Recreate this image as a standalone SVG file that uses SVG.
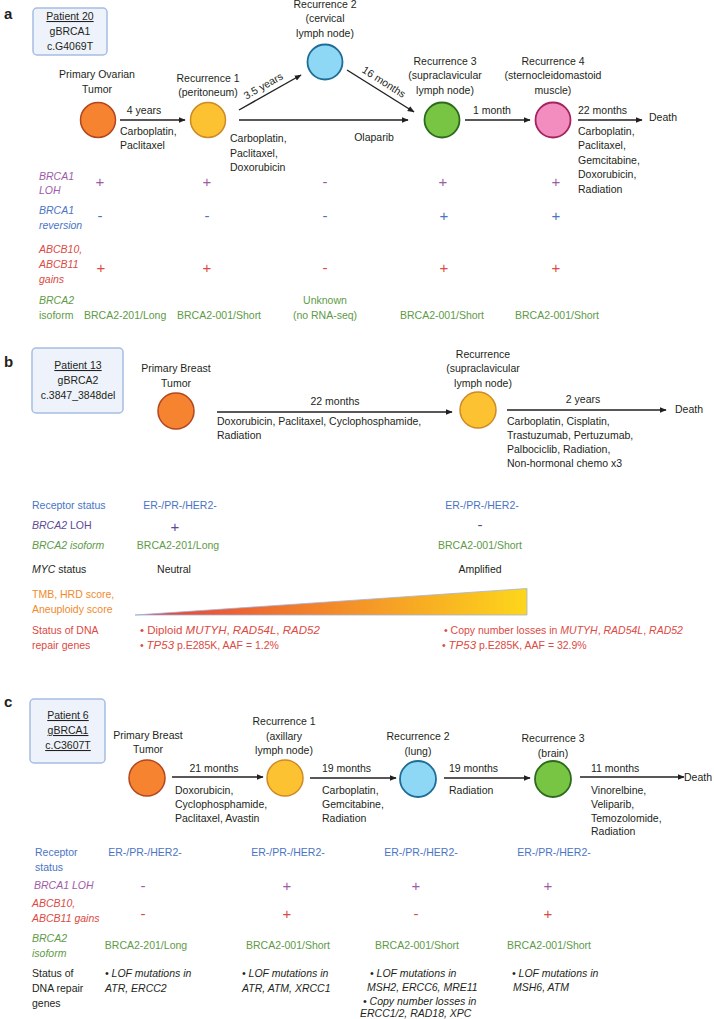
<svg xmlns="http://www.w3.org/2000/svg" width="714" height="1019" viewBox="0 0 714 1019">
<style>
text{font-family:"Liberation Sans",Arial,sans-serif;font-size:10.5px;fill:#231f20}
.m{text-anchor:middle}
.i{font-style:italic}
.lbl{font-weight:bold;font-size:15px}
.u{text-decoration:underline}
.pur{fill:#a05aa8}
.dpur{fill:#5b4a96}
.blu{fill:#4a74c4}
.red{fill:#db4a43}
.grn{fill:#5e9a47}
.org{fill:#f08a2d}
.sym{font-size:15px}
.box{fill:#eef3fb;stroke:#a7bde3;stroke-width:1.5}
.ln{stroke:#231f20;stroke-width:1.4;fill:none}
.o{fill:#f5832f;stroke:#b4461f;stroke-width:1.5}
.y{fill:#fdc232;stroke:#cf8a26;stroke-width:1.5}
.b{fill:#8fd8f5;stroke:#1e6d98;stroke-width:1.8}
.g{fill:#78c443;stroke:#2d6a1e;stroke-width:1.8}
.p{fill:#f48dbf;stroke:#a3245f;stroke-width:1.8}
</style>
<defs>
<marker id="ah" viewBox="0 0 10 10" refX="9" refY="5" markerWidth="7" markerHeight="7" orient="auto" markerUnits="userSpaceOnUse">
<path d="M0,1 L10,5 L0,9 z" fill="#231f20"/>
</marker>
<linearGradient id="wedge" x1="0" y1="0" x2="1" y2="0">
<stop offset="0" stop-color="#e53a3c"/>
<stop offset="0.45" stop-color="#f2822b"/>
<stop offset="1" stop-color="#fdd61b"/>
</linearGradient>
</defs>

<!-- Panel a -->
<text x="4" y="19" class="lbl">a</text>
<g id="a-patient">
<rect x="33" y="8" width="74" height="47" rx="4" class="box"/>
<text x="70" y="20" class="m u">Patient 20 </text>
<text x="70" y="35" class="m">gBRCA1</text>
<text x="70" y="50" class="m">c.G4069T</text>
</g>
<g id="a-primary">
<text x="97" y="78" class="m">Primary Ovarian</text>
<text x="97" y="93" class="m">Tumor</text>
<circle cx="98" cy="120" r="17.5" class="o"/>
</g>
<g id="a-rec1">
<text x="208" y="82" class="m">Recurrence 1</text>
<text x="208" y="96" class="m">(peritoneum)</text>
<circle cx="208" cy="120" r="17.5" class="y"/>
</g>
<g id="a-rec2">
<text x="325" y="8" class="m">Recurrence 2</text>
<text x="325" y="22" class="m">(cervical</text>
<text x="325" y="37" class="m">lymph node)</text>
<circle cx="325" cy="62" r="17.5" class="b"/>
</g>
<g id="a-rec3">
<text x="445" y="65" class="m">Recurrence 3</text>
<text x="445" y="79" class="m">(supraclavicular</text>
<text x="445" y="94" class="m">lymph node)</text>
<circle cx="442" cy="120" r="17.5" class="g"/>
</g>
<g id="a-rec4">
<text x="553" y="65" class="m">Recurrence 4</text>
<text x="553" y="79" class="m">(sternocleidomastoid</text>
<text x="553" y="94" class="m">muscle)</text>
<circle cx="553" cy="120" r="17.5" class="p"/>
</g>
<g id="a-death"><text x="649" y="121">Death</text></g>
<g id="a-connectors">
<line x1="120" y1="120" x2="185" y2="120" class="ln" marker-end="url(#ah)"/>
<line x1="239" y1="110" x2="301" y2="75" class="ln" marker-end="url(#ah)"/>
<line x1="239" y1="120" x2="408" y2="120" class="ln" marker-end="url(#ah)"/>
<line x1="347" y1="70" x2="414" y2="112" class="ln" marker-end="url(#ah)"/>
<line x1="465" y1="120" x2="530" y2="120" class="ln" marker-end="url(#ah)"/>
<line x1="578" y1="120" x2="642" y2="120" class="ln" marker-end="url(#ah)"/>
<text x="144" y="114" class="m">4 years</text>
<text x="120" y="135">Carboplatin,</text>
<text x="120" y="149">Paclitaxel</text>
<text x="265" y="89" class="m" transform="rotate(-29.5 265 89)">3.5 years</text>
<text x="382" y="85" class="m" transform="rotate(32.5 382 85)">16 months</text>
<text x="230" y="142">Carboplatin,</text>
<text x="230" y="157">Paclitaxel,</text>
<text x="230" y="171">Doxorubicin</text>
<text x="374" y="141" class="m">Olaparib</text>
<text x="492" y="114" class="m">1 month</text>
<text x="578" y="114">22 months</text>
<text x="578" y="135">Carboplatin,</text>
<text x="578" y="149">Paclitaxel,</text>
<text x="578" y="164">Gemcitabine,</text>
<text x="578" y="178">Doxorubicin,</text>
<text x="578" y="193">Radiation</text>
</g>
<g id="a-rows">
<text x="39" y="180" class="i pur">BRCA1</text>
<text x="39" y="194" class="i pur">LOH</text>
<text x="100" y="187" class="m sym pur">+</text>
<text x="207" y="187" class="m sym pur">+</text>
<text x="325" y="187" class="m sym pur">-</text>
<text x="443" y="187" class="m sym pur">+</text>
<text x="556" y="187" class="m sym pur">+</text>
<text x="39" y="214" class="i blu">BRCA1</text>
<text x="39" y="229" class="i blu">reversion</text>
<text x="100" y="221" class="m sym blu">-</text>
<text x="207" y="221" class="m sym blu">-</text>
<text x="325" y="221" class="m sym blu">-</text>
<text x="444" y="221" class="m sym blu">+</text>
<text x="556" y="221" class="m sym blu">+</text>
<text x="39" y="253" class="i red">ABCB10,</text>
<text x="39" y="268" class="i red">ABCB11</text>
<text x="39" y="283" class="i red">gains</text>
<text x="101" y="273" class="m sym red">+</text>
<text x="207" y="273" class="m sym red">+</text>
<text x="325" y="273" class="m sym red">-</text>
<text x="444" y="273" class="m sym red">+</text>
<text x="556" y="273" class="m sym red">+</text>
<text x="39" y="304" class="i grn">BRCA2</text>
<text x="39" y="319" class="grn">isoform</text>
<text x="84" y="319" class="grn">BRCA2-201/Long</text>
<text x="177" y="319" class="grn">BRCA2-001/Short</text>
<text x="325" y="304" class="m grn">Unknown</text>
<text x="325" y="319" class="m grn">(no RNA-seq)</text>
<text x="442" y="319" class="m grn">BRCA2-001/Short</text>
<text x="557" y="319" class="m grn">BRCA2-001/Short</text>
</g>

<!-- Panel b -->
<text x="4" y="367" class="lbl">b</text>
<g id="b-patient">
<rect x="32" y="348" width="91" height="65" rx="4" class="box"/>
<text x="78" y="369" class="m u">Patient 13 </text>
<text x="78" y="384" class="m">gBRCA2</text>
<text x="78" y="399" class="m">c.3847_3848del</text>
</g>
<g id="b-primary">
<text x="176" y="372" class="m">Primary Breast</text>
<text x="176" y="387" class="m">Tumor</text>
<circle cx="176" cy="411" r="18" class="o"/>
</g>
<g id="b-rec">
<text x="483" y="358" class="m">Recurrence</text>
<text x="483" y="372" class="m">(supraclavicular</text>
<text x="483" y="387" class="m">lymph node)</text>
<circle cx="478" cy="410" r="18" class="y"/>
</g>
<g id="b-death"><text x="675" y="413">Death</text></g>
<g id="b-connectors">
<line x1="217" y1="412" x2="452" y2="412" class="ln" marker-end="url(#ah)"/>
<line x1="507" y1="410" x2="666" y2="410" class="ln" marker-end="url(#ah)"/>
<text x="335" y="405" class="m">22 months</text>
<text x="217" y="425">Doxorubicin, Paclitaxel, Cyclophosphamide,</text>
<text x="217" y="439">Radiation</text>
<text x="583" y="403" class="m">2 years</text>
<text x="507" y="425">Carboplatin, Cisplatin,</text>
<text x="507" y="439">Trastuzumab, Pertuzumab,</text>
<text x="507" y="453">Palbociclib, Radiation,</text>
<text x="507" y="467">Non-hormonal chemo x3</text>
</g>
<g id="b-rows">
<text x="32" y="509" class="blu">Receptor status</text>
<text x="180" y="509" class="m blu">ER-/PR-/HER2-</text>
<text x="482" y="509" class="m blu">ER-/PR-/HER2-</text>
<text x="32" y="529" class="dpur"><tspan class="i">BRCA2</tspan> LOH</text>
<text x="175" y="532" class="m sym dpur">+</text>
<text x="480" y="530" class="m sym dpur">-</text>
<text x="32" y="549" class="i grn">BRCA2 isoform</text>
<text x="178" y="549" class="m grn">BRCA2-201/Long</text>
<text x="480" y="549" class="m grn">BRCA2-001/Short</text>
<text x="32" y="573"><tspan class="i">MYC</tspan>  status</text>
<text x="174" y="573" class="m">Neutral</text>
<text x="480" y="573" class="m">Amplified</text>
<text x="32" y="598" class="org">TMB, HRD score,</text>
<text x="32" y="613" class="org">Aneuploidy score</text>
<polygon points="135,615 527,588.5 527,615" fill="url(#wedge)" stroke="#9fb3dc" stroke-width="0.8"/>
<text x="32" y="634" class="red">Status of DNA</text>
<text x="32" y="649" class="red">repair genes</text>
<text x="140" y="634" class="red" style="font-size:11.5px">• Diploid <tspan class="i">MUTYH</tspan>, <tspan class="i">RAD54L</tspan>, <tspan class="i">RAD52</tspan></text>
<text x="140" y="649" class="red">• <tspan class="i" style="font-size:11.5px">TP53</tspan> p.E285K, AAF = 1.2%</text>
<text x="444" y="634" class="red">• Copy number losses  in <tspan class="i">MUTYH</tspan>, <tspan class="i">RAD54L</tspan>, <tspan class="i">RAD52</tspan></text>
<text x="442" y="649" class="red">• <tspan class="i" style="font-size:11.5px">TP53</tspan> p.E285K, AAF = 32.9%</text>
</g>

<!-- Panel c -->
<text x="4" y="707" class="lbl">c</text>
<g id="c-patient">
<rect x="30" y="699" width="75" height="64" rx="4" class="box"/>
<text x="68" y="719" class="m u">Patient 6 </text>
<text x="68" y="734" class="m u">gBRCA1 </text>
<text x="68" y="749" class="m u">c.C3607T </text>
</g>
<g id="c-primary">
<text x="148" y="739" class="m">Primary Breast</text>
<text x="148" y="753" class="m">Tumor</text>
<circle cx="147" cy="778" r="18" class="o"/>
</g>
<g id="c-rec1">
<text x="284" y="725" class="m">Recurrence 1</text>
<text x="284" y="740" class="m">(axillary</text>
<text x="284" y="754" class="m">lymph node)</text>
<circle cx="285" cy="778" r="18" class="y"/>
</g>
<g id="c-rec2">
<text x="418" y="740" class="m">Recurrence 2</text>
<text x="418" y="755" class="m">(lung)</text>
<circle cx="418" cy="779" r="18" class="b"/>
</g>
<g id="c-rec3">
<text x="553" y="742" class="m">Recurrence 3</text>
<text x="553" y="757" class="m">(brain)</text>
<circle cx="553" cy="779" r="18" class="g"/>
</g>
<g id="c-death"><text x="684" y="781">Death</text></g>
<g id="c-connectors">
<line x1="172" y1="777" x2="263" y2="777" class="ln" marker-end="url(#ah)"/>
<line x1="310" y1="778" x2="396" y2="778" class="ln" marker-end="url(#ah)"/>
<line x1="444" y1="778" x2="530" y2="778" class="ln" marker-end="url(#ah)"/>
<line x1="580" y1="777" x2="684" y2="777" class="ln" marker-end="url(#ah)"/>
<text x="214" y="772" class="m">21 months</text>
<text x="175" y="794">Doxorubicin,</text>
<text x="175" y="808">Cyclophosphamide,</text>
<text x="175" y="822">Paclitaxel, Avastin</text>
<text x="322" y="772">19 months</text>
<text x="322" y="794">Carboplatin,</text>
<text x="322" y="808">Gemcitabine,</text>
<text x="322" y="822">Radiation</text>
<text x="449" y="772">19 months</text>
<text x="449" y="794">Radiation</text>
<text x="591" y="772">11 months</text>
<text x="591" y="794">Vinorelbine,</text>
<text x="591" y="808">Veliparib,</text>
<text x="591" y="822">Temozolomide,</text>
<text x="591" y="835">Radiation</text>
</g>
<g id="c-rows">
<text x="35" y="856" class="blu">Receptor</text>
<text x="35" y="871" class="blu">status</text>
<text x="145" y="856" class="m blu">ER-/PR-/HER2-</text>
<text x="288" y="856" class="m blu">ER-/PR-/HER2-</text>
<text x="421" y="856" class="m blu">ER-/PR-/HER2-</text>
<text x="554" y="856" class="m blu">ER-/PR-/HER2-</text>
<text x="34" y="889" class="i pur">BRCA1 LOH</text>
<text x="143" y="891" class="m sym pur">-</text>
<text x="287" y="891" class="m sym pur">+</text>
<text x="416" y="891" class="m sym pur">+</text>
<text x="548" y="891" class="m sym pur">+</text>
<text x="32" y="907" class="i red">ABCB10,</text>
<text x="32" y="922" class="i red">ABCB11 gains</text>
<text x="143" y="919" class="m sym red">-</text>
<text x="287" y="919" class="m sym red">+</text>
<text x="416" y="919" class="m sym red">-</text>
<text x="548" y="919" class="m sym red">+</text>
<text x="32" y="942" class="i grn">BRCA2</text>
<text x="32" y="957" class="i grn">isoform</text>
<text x="146" y="949" class="m grn">BRCA2-201/Long</text>
<text x="288" y="949" class="m grn">BRCA2-001/Short</text>
<text x="417" y="949" class="m grn">BRCA2-001/Short</text>
<text x="549" y="949" class="m grn">BRCA2-001/Short</text>
<text x="32" y="977">Status of</text>
<text x="32" y="992">DNA repair</text>
<text x="32" y="1007">genes</text>
<text x="105" y="977" class="i">• LOF mutations in</text>
<text x="105" y="992" class="i">ATR, ERCC2</text>
<text x="242" y="977" class="i">• LOF mutations in</text>
<text x="242" y="992" class="i">ATR, ATM, XRCC1</text>
<text x="370" y="977" class="i">• LOF mutations in</text>
<text x="367" y="991" class="i">MSH2, ERCC6, MRE11</text>
<text x="363" y="1005" class="i">• Copy number losses in</text>
<text x="360" y="1017" class="i">ERCC1/2, RAD18, XPC</text>
<text x="512" y="977" class="i">• LOF mutations in</text>
<text x="513" y="991" class="i">MSH6, ATM</text>
</g>
</svg>
